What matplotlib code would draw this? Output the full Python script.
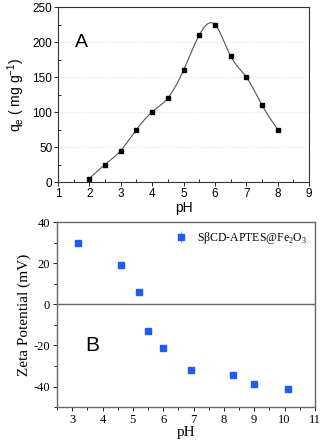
import numpy as np
import matplotlib
matplotlib.use("Agg")
import matplotlib.pyplot as plt
from matplotlib.ticker import MultipleLocator

plt.rcParams["axes.unicode_minus"] = False

# panel A: adsorption capacity vs pH
ph_a = [2.0, 2.5, 3.0, 3.5, 4.0, 4.5, 5.0, 5.5, 6.0, 6.5, 7.0, 7.5, 8.0]
qe = [5, 25, 45, 75, 100, 120, 160, 210, 225, 180, 150, 110, 75]

# panel B: zeta potential vs pH
ph_b = [3.2, 4.6, 5.2, 5.5, 6.0, 6.9, 8.3, 9.0, 10.1]
zeta = [30, 19, 6, -13, -21, -32, -34.5, -38.5, -41]
zeta_err = [1.2, 0.6, 0.5, 0.5, 0.8, 1.0, 0.6, 1.2, 0.9]


def natural_spline(x, y, n=300):
    """natural cubic spline through the points, used only for the connecting line"""
    x = np.asarray(x, float)
    y = np.asarray(y, float)
    k = len(x)
    h = np.diff(x)
    A = np.zeros((k, k))
    r = np.zeros(k)
    A[0, 0] = A[-1, -1] = 1
    for i in range(1, k - 1):
        A[i, i - 1] = h[i - 1]
        A[i, i] = 2 * (h[i - 1] + h[i])
        A[i, i + 1] = h[i]
        r[i] = 3 * ((y[i + 1] - y[i]) / h[i] - (y[i] - y[i - 1]) / h[i - 1])
    c = np.linalg.solve(A, r)
    xs = np.linspace(x[0], x[-1], n)
    idx = np.clip(np.searchsorted(x, xs) - 1, 0, k - 2)
    dx = xs - x[idx]
    b = (y[idx + 1] - y[idx]) / h[idx] - h[idx] * (2 * c[idx] + c[idx + 1]) / 3
    d = (c[idx + 1] - c[idx]) / (3 * h[idx])
    ys = y[idx] + b * dx + c[idx] * dx ** 2 + d * dx ** 3
    return xs, ys


fig = plt.figure(figsize=(3.22, 4.45), dpi=100)

# ---- top panel (A)
ax1 = fig.add_axes([0.180, 0.591, 0.780, 0.393])
xs, ys = natural_spline(ph_a, qe)
ax1.plot(xs, ys, color="#555555", lw=0.8)
ax1.plot(ph_a, qe, "s", color="black", ms=3.4)
ax1.set_xlim(1, 9)
ax1.set_ylim(0, 250)
ax1.xaxis.set_major_locator(MultipleLocator(1))
ax1.xaxis.set_minor_locator(MultipleLocator(0.5))
ax1.yaxis.set_major_locator(MultipleLocator(50))
ax1.yaxis.set_minor_locator(MultipleLocator(25))
ax1.grid(axis="y", which="major", color="#dddddd", ls=":", lw=0.8)
ax1.tick_params(which="major", direction="out", length=3, width=0.6, labelsize=8.5, pad=1)
ax1.tick_params(which="minor", direction="in", length=2, width=0.6)
for lab in ax1.get_xticklabels() + ax1.get_yticklabels():
    lab.set_family("Liberation Sans")
for s in ax1.spines.values():
    s.set_color("#333333")
    s.set_linewidth(0.8)
ax1.set_xlabel("pH", family="Liberation Sans", fontsize=10, labelpad=1)
ax1.set_ylabel("q$_\\mathregular{e}$ ( mg g$^\\mathregular{-1}$)", family="Liberation Sans",
               fontsize=10, labelpad=4)
ax1.text(1.55, 200, "A", family="Liberation Sans", fontsize=14, va="center")

# ---- bottom panel (B)
ax2 = fig.add_axes([0.177, 0.085, 0.801, 0.416])
ax2.axhline(0, color="#666666", lw=1.0, zorder=1)
ax2.errorbar(ph_b, zeta, yerr=zeta_err, fmt="s", color="#1f5cf5", ecolor="#9db5f5",
             ms=3.8, elinewidth=0.8, capsize=0, label="S\u03b2CD-APTES@Fe$_\\mathregular{2}$O$_\\mathregular{3}$",
             zorder=3)
ax2.set_xlim(2.5, 11)
ax2.set_ylim(-50, 40)
ax2.xaxis.set_major_locator(MultipleLocator(1))
ax2.xaxis.set_minor_locator(MultipleLocator(0.5))
ax2.yaxis.set_major_locator(MultipleLocator(20))
ax2.yaxis.set_minor_locator(MultipleLocator(10))
ax2.tick_params(which="major", direction="out", length=3, width=0.6, labelsize=9, pad=2)
ax2.tick_params(which="minor", direction="out", length=2, width=0.6)
for lab in ax2.get_xticklabels() + ax2.get_yticklabels():
    lab.set_family("Liberation Serif")
for s in ax2.spines.values():
    s.set_color("#666666")
    s.set_linewidth(1.0)
ax2.set_xlabel("pH", family="Liberation Serif", fontsize=11, labelpad=0)
ax2.set_ylabel("Zeta Potential (mV)", family="Liberation Serif", fontsize=11, labelpad=2)
ax2.text(3.65, -20, "B", family="Liberation Sans", fontsize=15, va="center", ha="center")
leg = ax2.legend(loc="upper right", frameon=False, prop={"family": "Liberation Serif", "size": 8.5},
                 handlelength=0.8, handletextpad=0.9, borderaxespad=0.3)

fig.savefig("out.png", dpi=100)
